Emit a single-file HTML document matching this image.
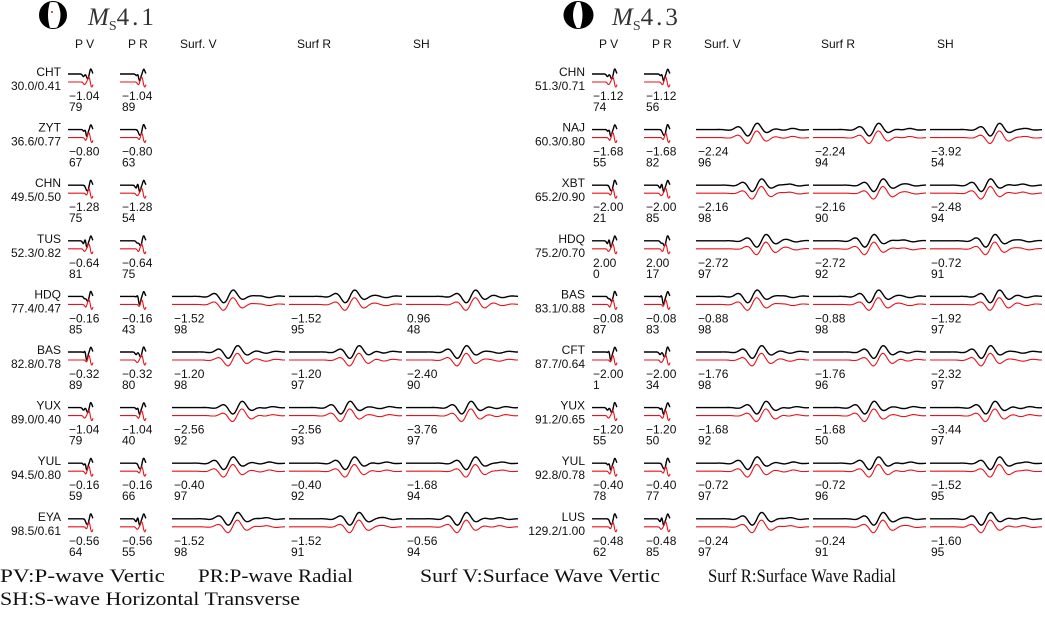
<!DOCTYPE html>
<html><head><meta charset="utf-8"><style>
html,body{margin:0;padding:0;background:#fff;}
svg{display:block;}
text{font-family:"Liberation Sans",sans-serif;font-size:12px;fill:#111;}
text.ser{font-family:"Liberation Serif",serif;font-size:19px;}
text.ttl{font-family:"Liberation Serif",serif;font-size:25px;fill:#333;}
</style></head><body>
<svg id="fig" width="1045" height="625" viewBox="0 0 1045 625" xmlns="http://www.w3.org/2000/svg">
<g id="titles"></g><g id="panels"></g>
<g>
<text class="ser" x="0" y="582" textLength="165" lengthAdjust="spacingAndGlyphs">PV:P-wave Vertic</text>
<text class="ser" x="198" y="582" textLength="155" lengthAdjust="spacingAndGlyphs">PR:P-wave Radial</text>
<text class="ser" x="420" y="582" textLength="240" lengthAdjust="spacingAndGlyphs">Surf V:Surface Wave Vertic</text>
<text class="ser" x="708" y="582" textLength="188" lengthAdjust="spacingAndGlyphs">Surf R:Surface Wave Radial</text>
<text class="ser" x="0" y="605" textLength="300" lengthAdjust="spacingAndGlyphs">SH:S-wave Horizontal Transverse</text>
</g>
</svg>
<script>
const leftStations=["CHT","ZYT","CHN","TUS","HDQ","BAS","YUX","YUL","EYA"];
const leftDist=["30.0/0.41","36.6/0.77","49.5/0.50","52.3/0.82","77.4/0.47","82.8/0.78","89.0/0.40","94.5/0.80","98.5/0.61"];
const leftShift=[["−1.04","−1.04"],["−0.80","−0.80"],["−1.28","−1.28"],["−0.64","−0.64"],["−0.16","−0.16","−1.52","−1.52","0.96"],["−0.32","−0.32","−1.20","−1.20","−2.40"],["−1.04","−1.04","−2.56","−2.56","−3.76"],["−0.16","−0.16","−0.40","−0.40","−1.68"],["−0.56","−0.56","−1.52","−1.52","−0.56"]];
const leftCC=[["79","89"],["67","63"],["75","54"],["81","75"],["85","43","98","95","48"],["89","80","98","97","90"],["79","40","92","93","97"],["59","66","97","92","94"],["64","55","98","91","94"]];
const rightStations=["CHN","NAJ","XBT","HDQ","BAS","CFT","YUX","YUL","LUS"];
const rightDist=["51.3/0.71","60.3/0.80","65.2/0.90","75.2/0.70","83.1/0.88","87.7/0.64","91.2/0.65","92.8/0.78","129.2/1.00"];
const rightShift=[["−1.12","−1.12"],["−1.68","−1.68","−2.24","−2.24","−3.92"],["−2.00","−2.00","−2.16","−2.16","−2.48"],["2.00","2.00","−2.72","−2.72","−0.72"],["−0.08","−0.08","−0.88","−0.88","−1.92"],["−2.00","−2.00","−1.76","−1.76","−2.32"],["−1.20","−1.20","−1.68","−1.68","−3.44"],["−0.40","−0.40","−0.72","−0.72","−1.52"],["−0.48","−0.48","−0.24","−0.24","−1.60"]];
const rightCC=[["74","56"],["55","82","96","94","54"],["21","85","98","90","94"],["0","17","97","92","91"],["87","83","98","98","97"],["1","34","98","96","97"],["55","50","92","50","97"],["78","77","97","96","95"],["62","85","97","91","95"]];
const headers=["P V","P R","Surf. V","Surf R","SH"];
const mags=["4.1","4.3"];

const NS="http://www.w3.org/2000/svg";
function mk(tag,attrs,parent){const e=document.createElementNS(NS,tag);for(const k in attrs)e.setAttribute(k,attrs[k]);parent.appendChild(e);return e;}
const fig=document.getElementById('panels'), tg=document.getElementById('titles');
const colX=[[68,93],[120,146],[172,285],[289,402],[406,518]];
const hdrX=[75,128,180,297,413];
const valX=[69,122,174,291,407];
const PITCH=55.6, Y0=72;

function body(t,k,red){
  const s=k%3, ph=red?0.04:0;
  let v=0;
  const c1=0.62+0.05*s+ph, c2=0.85+ph;
  v+=-2.5*Math.exp(-Math.pow((t-c1)/0.06,2));
  v+=(red?-7:7)*Math.sin((t-c2)*Math.PI*6)*Math.exp(-Math.pow((t-c2)/0.12,2))*(t>c2-0.2?1:0);
  if(k%2&&!red) v+=3*Math.sin(t*40)*Math.exp(-Math.pow((t-0.75)/0.1,2));
  return v;
}
function surf(t,k,red,col){
  const c=0.5+0.04*((k+col)%3)+(red?0.01:0);
  const w=Math.exp(-Math.pow((t-c)/0.14,2));
  let v=7*Math.sin((t-c)*Math.PI*11+(red?0.5:0))*w;
  v+=1.2*Math.sin(t*30+k)*Math.exp(-Math.pow((t-0.85)/0.1,2));
  return v;
}
function trace(g,x0,x1,y,fn,color,name){
  let d="";const n=120;
  for(let i=0;i<=n;i++){const t=i/n;const x=x0+(x1-x0)*t;const yy=y-fn(t);d+=(i?"L":"M")+x.toFixed(1)+" "+yy.toFixed(1);}
  const p=mk('path',{d:d,fill:'none',stroke:color,'stroke-width':color==='#000'?1.4:1.1},g);
  
  
}
function panel(off,stations,dist,shift,cc,pi){
  const g=mk('g',{},fig);
  
  
  headers.forEach((h,i)=>{const t=mk('text',{x:hdrX[i]+off,y:48},g);t.textContent=h;
    
    });
  stations.forEach((s,r)=>{
    const L=Y0+r*PITCH;
    const rg=mk('g',{},g);
    
    
    const a=mk('text',{x:61+off,y:L+4,'text-anchor':'end'},rg);a.textContent=s;
    
    
    const b=mk('text',{x:61+off,y:L+18,'text-anchor':'end'},rg);b.textContent=dist[r];
    
    
    shift[r].forEach((v,c)=>{
      const [x0,x1]=colX[c];
      const fn=c<2?((red)=>t=>body(t,r+c,red)):((red)=>t=>surf(t,r,red,c));
      trace(rg,x0+off,x1+off,L+2,fn(false),'#000','observed-trace');
      trace(rg,x0+off,x1+off,L+10,fn(true),'#e8121b','synthetic-trace');
      const t1=mk('text',{x:valX[c]+off,y:L+28},rg);t1.textContent=v;
      
      
      const t2=mk('text',{x:valX[c]+off,y:L+39},rg);t2.textContent=cc[r][c];
      
      
    });
  });
  const cx=off+53+(pi?1:0);
  const bb=mk('g',{},tg);
  
  
  mk('circle',{cx:cx,cy:15,r:13.5,fill:'#fff',stroke:'#000','stroke-width':1},bb);
  if(pi===0){
    mk('path',{d:`M${cx-3} 1.9 A13.5 13.5 0 0 0 ${cx-3} 28.1 Q${cx-7} 15 ${cx-3} 1.9Z`,fill:'#000'},bb);
    mk('path',{d:`M${cx+4} 2.1 A13.5 13.5 0 0 1 ${cx+4} 27.9 Q${cx+11} 15 ${cx+4} 2.1Z`,fill:'#000'},bb);
    mk('circle',{cx:cx-1,cy:12,r:1,fill:'#e8121b'},bb);}
  else{
    mk('path',{d:`M${cx-1} 1.5 A13.5 13.5 0 0 0 ${cx-1} 28.5 Q${cx-9} 15 ${cx-1} 1.5Z`,fill:'#000'},bb);
    mk('path',{d:`M${cx+2} 1.5 A13.5 13.5 0 0 1 ${cx+2} 28.5 Q${cx+7} 15 ${cx+2} 1.5Z`,fill:'#000'},bb);}
  const tt=mk('text',{x:off+88,y:25,class:'ttl'},tg);
  
  
  const m=mk('tspan',{'font-style':'italic'},tt);m.textContent='M';
  const sb=mk('tspan',{style:'font-size:14px',dy:5},tt);sb.textContent='S';
  const n=mk('tspan',{dy:-5,'letter-spacing':3},tt);n.textContent=mags[pi];
}
panel(0,leftStations,leftDist,leftShift,leftCC,0);
panel(524,rightStations,rightDist,rightShift,rightCC,1);
</script>
</body></html>
